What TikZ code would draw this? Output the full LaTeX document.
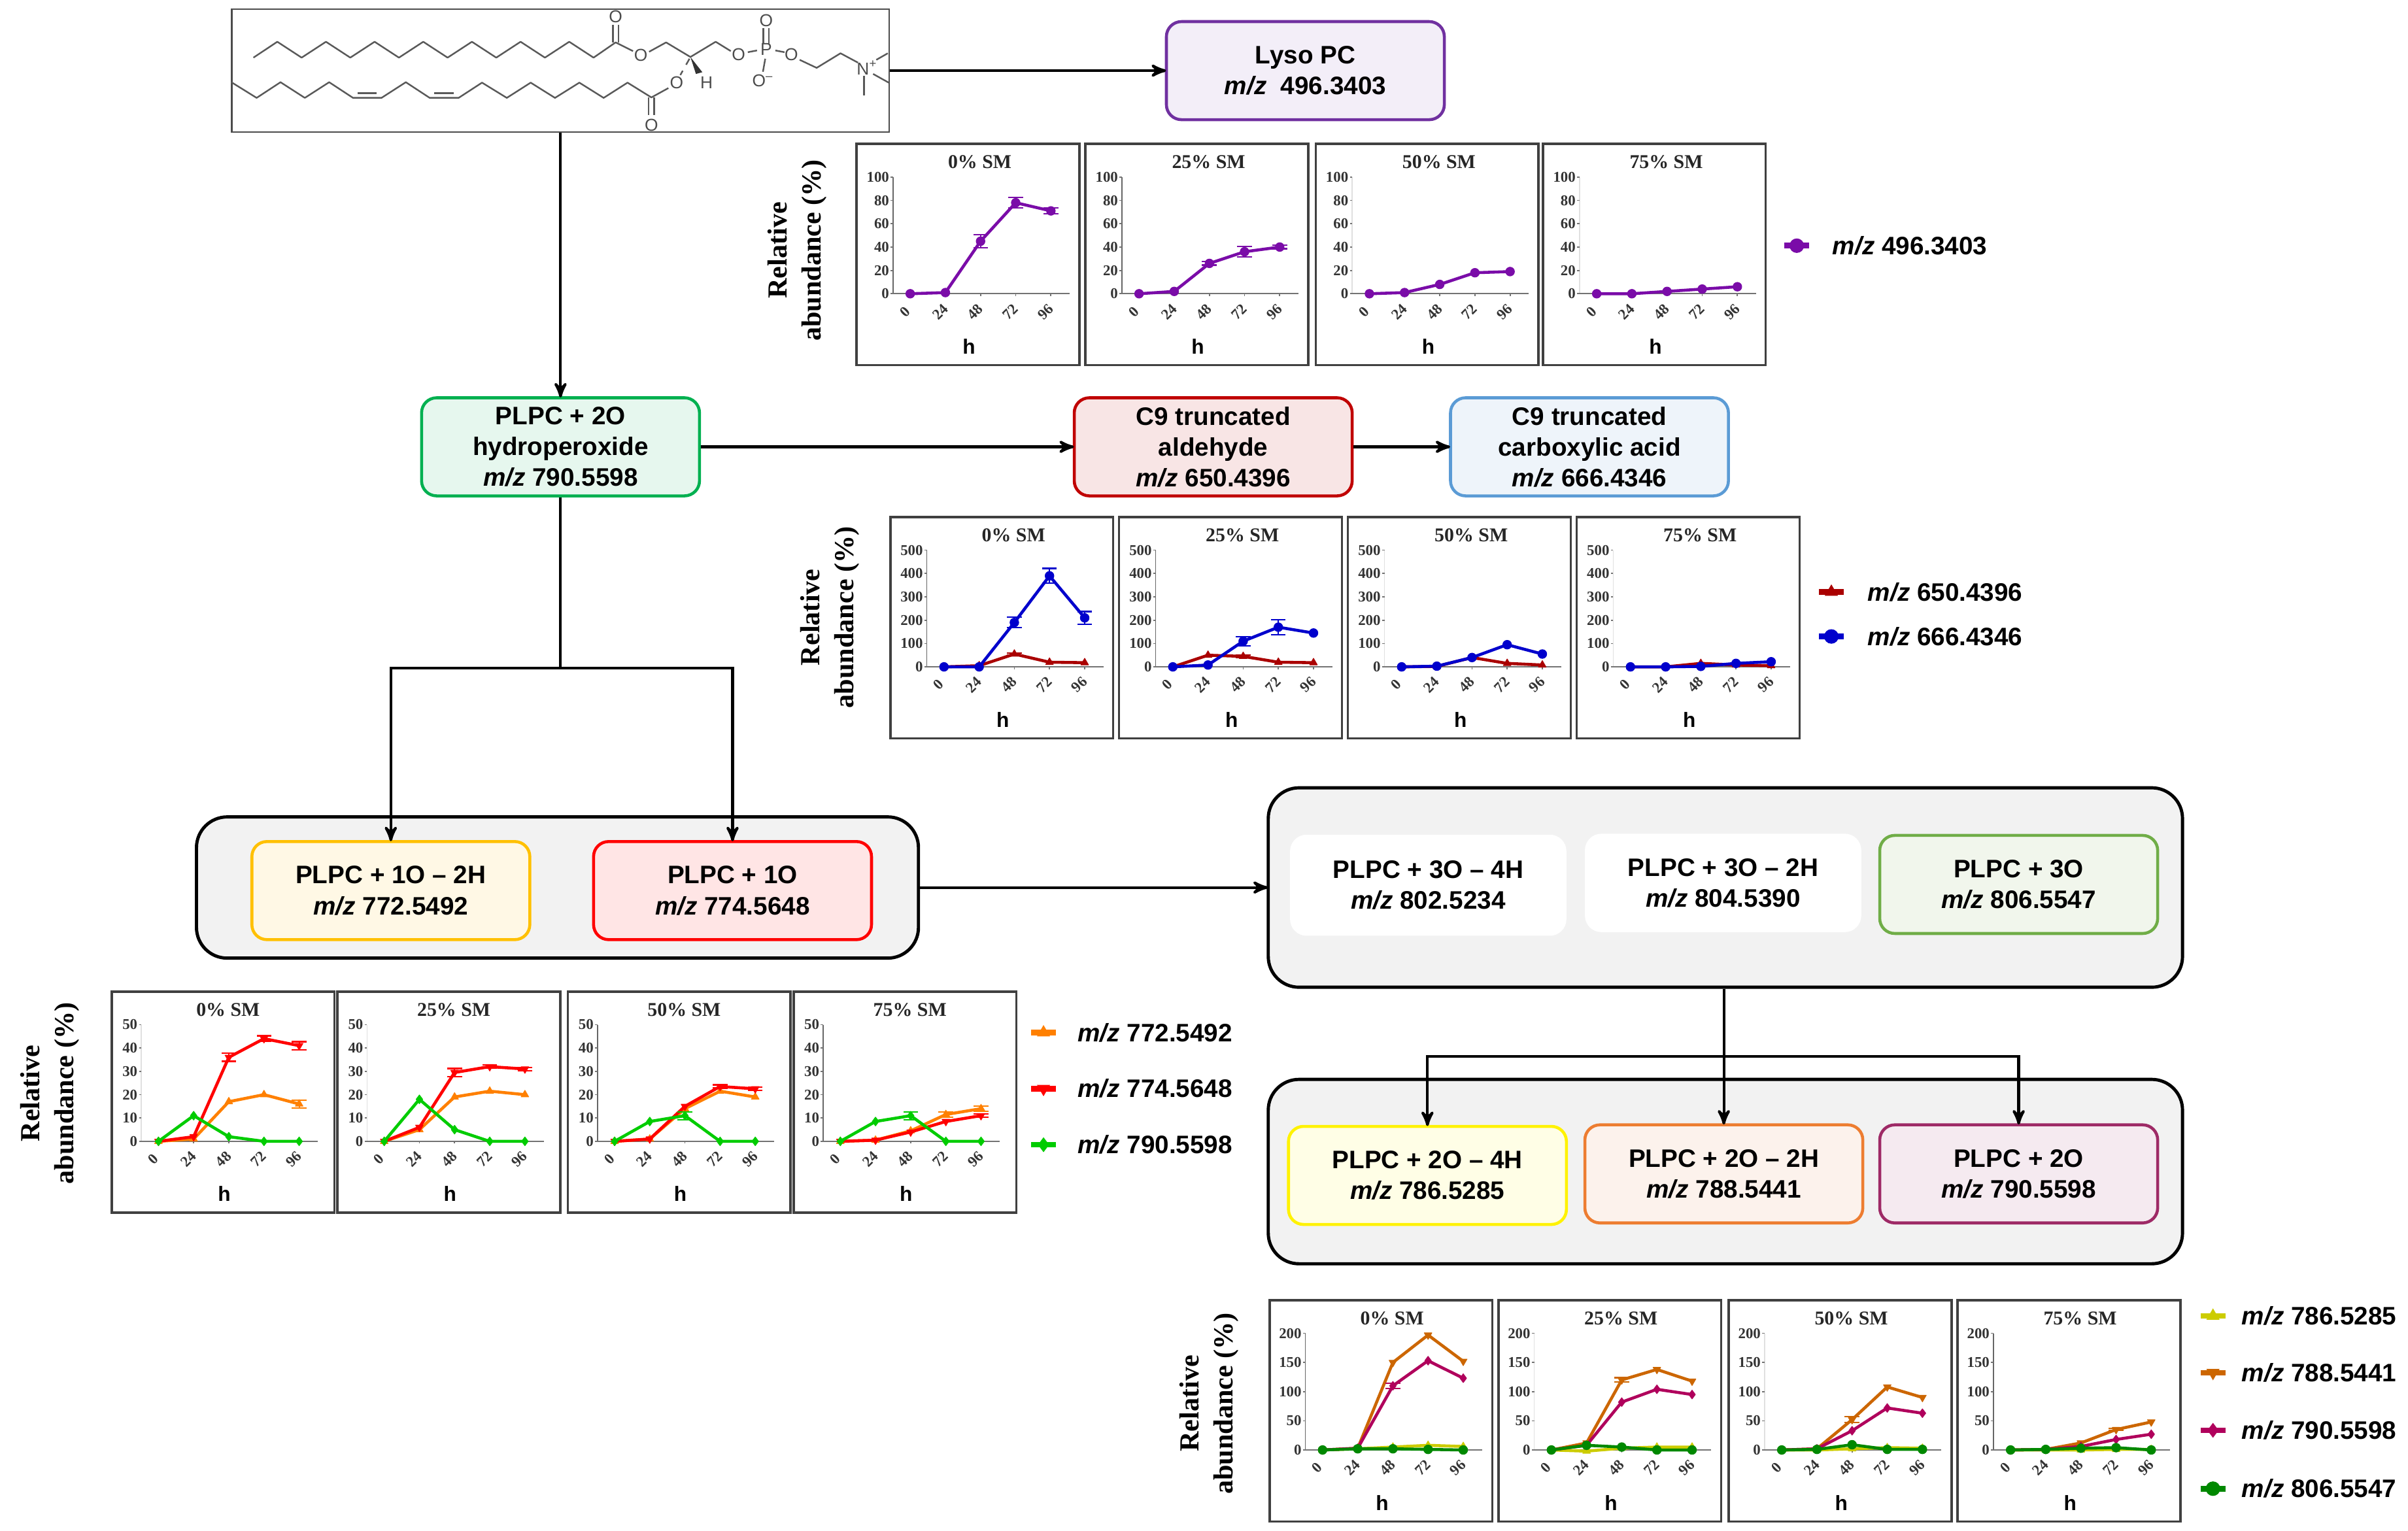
\documentclass[tikz,border=0pt]{standalone}
\usepackage{fontspec}
\setmainfont{Liberation Sans}
\newfontfamily\serifbold{Liberation Serif}[BoldFont=* Bold]
\usetikzlibrary{arrows}
\usetikzlibrary{plotmarks}

\newcommand{\mz}{\textit{m/z}}

\definecolor{violet496}{HTML}{7A0CA8}
\definecolor{red650}{HTML}{AA0000}
\definecolor{blue666}{HTML}{0000CC}
\definecolor{orange772}{HTML}{FF8000}
\definecolor{red774}{HTML}{FF0000}
\definecolor{green790}{HTML}{00CC00}
\definecolor{yellow786}{HTML}{CCCC00}
\definecolor{orange788}{HTML}{CC6600}
\definecolor{plum790}{HTML}{B0005C}
\definecolor{green806}{HTML}{008800}

\tikzset{
 box/.style={shape=rectangle,rounded corners=0.23cm,line width=1.3pt,minimum width=4.25cm,minimum height=1.5cm,inner sep=0pt,align=center,font=\fontsize{11}{13.4}\selectfont\bfseries},
 tint/.style 2 args={draw=#1,fill=#2},
 group/.style={shape=rectangle,rounded corners=0.47cm,draw=black,fill=black!5,line width=1.4pt,inner sep=0pt},
 conn/.style={line width=1.2pt},
 arrow/.style={conn,-stealth',shorten >=-0.5pt},
 panel/.style={shape=rectangle,draw=black!75,line width=1pt,fill=white,anchor=north west,minimum width=3.406cm,minimum height=3.383cm,inner sep=0pt},
 paneltitle/.style={font=\fontsize{8.5}{10}\serifbold\bfseries,text=black!85},
 ticklabel/.style={font=\fontsize{6.5}{7}\serifbold\bfseries,text=black!80,inner sep=0.5pt},
 hlabel/.style={font=\fontsize{9}{10}\selectfont\bfseries},
 axisline/.style={draw=black!55,line width=0.5pt},
 ylab/.style={rotate=90,align=center,font=\fontsize{12}{14.8}\serifbold\bfseries},
 legtext/.style={anchor=west,inner sep=0pt,font=\fontsize{11}{13}\selectfont\bfseries},
 atom/.style={font=\fontsize{7.5}{8}\selectfont,text=black!70,inner sep=0pt},
 bond/.style={draw=black!65,line width=0.7pt,line join=round},
 serup/.style={mark=triangle*,mark options={solid,line width=0.3pt}},
 serdown/.style={mark=triangle*,mark options={solid,line width=0.3pt,rotate=180}},
 serdia/.style={mark=diamond*,mark options={solid,line width=0.3pt}},
 sercirc/.style={mark=*,mark options={solid,line width=0.3pt}},
 lyso/.style={color=violet496,sercirc},
 ald/.style={color=red650,serup},
 acid/.style={color=blue666,sercirc},
 one2h/.style={color=orange772,serup},
 oneo/.style={color=red774,serdown},
 twoo/.style={color=green790,serdia},
 two4h/.style={color=yellow786,serup},
 two2h/.style={color=orange788,serdown},
 twoop/.style={color=plum790,serdia},
 threeo/.style={color=green806,sercirc}
}

\newcommand{\smpanel}[8][black!60]{
 \node (#2) [panel] at (#3,#4) {};
 \pgfmathsetmacro{\smax}{#3+#8}
 \pgfmathsetmacro{\smzero}{#4+98.3}
 \pgfmathsetmacro{\smk}{76/#6}
 \node (#2t) [paneltitle] at (\smax+56.5,#4+12.6) {#5};
 \draw [axisline,draw=#1] (\smax,#4+22.5) -- (\smax,\smzero);
 \draw [axisline] (\smax,\smzero) -- (\smax+115,\smzero);
 \foreach \tk in {0,#7,...,#6} {
  \draw [axisline] (\smax-1.5,{\smzero-\smk*\tk}) -- (\smax,{\smzero-\smk*\tk});
  \node (#2y\tk) [ticklabel,anchor=east] at (\smax-1.5,{\smzero-\smk*\tk}) {\tk};
 }
 \foreach \hr [count=\i from 0] in {0,24,48,72,96} {
  \draw [axisline] ({\smax+11.2+22.9*\i},\smzero) -- ({\smax+11.2+22.9*\i},\smzero+1.5);
  \node (#2x\hr) [ticklabel,rotate=45] at ({\smax+11.2+22.9*\i-3.5},#4+110) {\hr};
 }
 \node (#2h) [hlabel] at (#3+74,#4+132.6) {h};
}

\newcommand{\smseries}[2]{
 \foreach \val/\err [count=\i from 0] in {#2} {
  \coordinate (pt\i) at ({\smax+11.2+22.9*\i},{\smzero-\smk*\val});
  \ifdim\err pt>0pt
   \draw [#1,mark=none,line width=0.6pt,|-|] ({\smax+11.2+22.9*\i},{\smzero-\smk*(\val+\err)}) -- ({\smax+11.2+22.9*\i},{\smzero-\smk*(\val-\err)});
  \fi
 }
 \draw [#1,line width=1.3pt,mark size=1.9pt,line join=round] plot coordinates {(pt0) (pt1) (pt2) (pt3) (pt4)};
}

\newcommand{\smlegend}[6]{
 \coordinate (#1a) at (#2-8,#3);
 \coordinate (#1m) at (#2,#3);
 \coordinate (#1b) at (#2+8,#3);
 \draw [#4,line width=2.5pt,mark size=3pt,mark indices={2}] plot coordinates {(#1a) (#1m) (#1b)};
 \node (#1) [legtext] at (#5,#3) {\mz{} #6};
}

\begin{document}
\begin{tikzpicture}[x=0.02349cm,y=-0.02349cm]
\useasboundingbox (0,0) rectangle (1568,997);

\node (mol) [shape=rectangle,draw=black!70,line width=0.8pt,minimum width=10.05cm,minimum height=1.88cm,inner sep=0pt] at (365,46) {};

\begin{scope}[shift={(144.7,0)},x=0.007017cm,y=-0.003333cm]
\draw [bond] (68,265) -- (120,192) -- (173,265) -- (226,192) -- (279,265) -- (332,192) -- (385,265) -- (438,192) -- (491,265) -- (544,192) -- (597,265) -- (650,192) -- (703,265) -- (756,192) -- (809,265) -- (857,195) -- (895,235);
\draw [bond] (930,238) -- (967,195) -- (1020,262) -- (1075,192) -- (1108,235);
\draw [bond] (851,195) -- (851,115);
\draw [bond] (863,195) -- (863,115);
\draw [bond] (1145,240) -- (1165,232);
\draw [bond] (1179,130) -- (1179,200);
\draw [bond] (1191,130) -- (1191,200);
\draw [bond] (1205,232) -- (1225,240);
\draw [bond] (1183,270) -- (1178,330);
\draw [bond] (1258,275) -- (1295,312) -- (1347,245) -- (1385,288);
\draw [bond] (1425,275) -- (1450,245);
\draw [bond] (1418,340) -- (1452,380);
\draw [bond] (1398,350) -- (1398,440);
\draw [bond,dashed] (1018,270) -- (998,345);
\fill [black!80] (1020,262) -- (1032,340) -- (1046,332) -- cycle;
\draw [bond] (20,378) -- (75,450) -- (127,378) -- (180,450) -- (233,378) -- (285,450) -- (347,450) -- (400,378) -- (452,450) -- (515,450) -- (566,380) -- (620,450) -- (672,380) -- (725,450) -- (778,380) -- (831,450) -- (883,380) -- (935,448) -- (972,405);
\draw [bond] (295,428) -- (337,428);
\draw [bond] (462,428) -- (505,428);
\draw [bond] (929,448) -- (929,530);
\draw [bond] (941,448) -- (941,530);
\node (ocarb1) [atom] at (857,75) {O};
\node (oester1) [atom] at (912,255) {O};
\node (ophos1) [atom] at (1125,252) {O};
\node (phos) [atom] at (1185,228) {P};
\node (ophos2) [atom] at (1185,95) {O};
\node (ophos3) [atom] at (1240,252) {O};
\node (ominus) [atom] at (1178,372) {O\textsuperscript{--}};
\node (nplus) [atom] at (1405,312) {N\textsuperscript{+}};
\node (oester2) [atom] at (990,380) {O};
\node (hyd) [atom] at (1055,380) {H};
\node (ocarb2) [atom] at (935,575) {O};
\end{scope}

\definecolor{lysoline}{HTML}{7030A0}
\definecolor{lysofill}{HTML}{F3EEF8}
\definecolor{plpcline}{HTML}{00B050}
\definecolor{plpcfill}{HTML}{E6F7EE}
\definecolor{aldline}{HTML}{C00000}
\definecolor{aldfill}{HTML}{F8E5E5}
\definecolor{acidline}{HTML}{5B9BD5}
\definecolor{acidfill}{HTML}{EEF4FA}
\definecolor{goldline}{HTML}{FFC000}
\definecolor{goldfill}{HTML}{FFF8E5}
\definecolor{threeline}{HTML}{70AD47}
\definecolor{threefill}{HTML}{F1F6EC}
\definecolor{orangeline}{HTML}{ED7D31}
\definecolor{orangefill}{HTML}{FCF2EC}
\definecolor{plumline}{HTML}{9E2A66}
\definecolor{plumfill}{HTML}{F5EAF0}

\node (lysopc) [box,tint={lysoline}{lysofill}] at (850,46) {Lyso PC\\\mz{}\ \ 496.3403};
\node (plpc) [box,tint={plpcline}{plpcfill}] at (365,291) {PLPC + 2O\\hydroperoxide\\\mz{} 790.5598};
\node (c9ald) [box,tint={aldline}{aldfill}] at (790,291) {C9 truncated\\aldehyde\\\mz{} 650.4396};
\node (c9acid) [box,tint={acidline}{acidfill}] at (1035,291) {C9 truncated\\carboxylic acid\\\mz{} 666.4346};

\node (grpone) [group,minimum width=11.04cm,minimum height=2.16cm] at (363,578) {};
\node (one2hbox) [box,tint={goldline}{goldfill}] at (254.5,580) {PLPC + 1O -- 2H\\\mz{} 772.5492};
\node (oneobox) [box,tint={red}{red!10}] at (477,580) {PLPC + 1O\\\mz{} 774.5648};

\node (grpthree) [group,minimum width=13.98cm,minimum height=3.05cm] at (1123.5,578) {};
\node (three4h) [box,tint={white}{white},minimum width=4.18cm] at (930,576.5) {PLPC + 3O -- 4H\\\mz{} 802.5234};
\node (three2h) [box,tint={white}{white},minimum width=4.18cm,minimum height=1.46cm] at (1122,575) {PLPC + 3O -- 2H\\\mz{} 804.5390};
\node (threeobox) [box,tint={threeline}{threefill}] at (1314.5,576) {PLPC + 3O\\\mz{} 806.5547};

\node (grptwo) [group,minimum width=13.98cm,minimum height=2.82cm] at (1123.5,763) {};
\node (two4hbox) [box,tint={yellow}{yellow!10}] at (929.5,765.5) {PLPC + 2O -- 4H\\\mz{} 786.5285};
\node (two2hbox) [box,tint={orangeline}{orangefill}] at (1122.5,764.5) {PLPC + 2O -- 2H\\\mz{} 788.5441};
\node (twoobox) [box,tint={plumline}{plumfill}] at (1314.5,764.5) {PLPC + 2O\\\mz{} 790.5598};

\coordinate (split) at (365,435);
\coordinate (fork) at (1122.5,688);

\draw [arrow] (mol) -- (lysopc);
\draw [arrow] (mol) -- (plpc);
\draw [arrow] (plpc) -- (c9ald);
\draw [arrow] (c9ald) -- (c9acid);
\draw [conn] (plpc) -- (split);
\draw [arrow] (split) -| (one2hbox.north);
\draw [arrow] (split) -| (oneobox.north);
\draw [arrow] (grpone) -- (grpthree);
\draw [conn] (fork |- grpthree.south) -- (fork);
\draw [arrow] (fork) -| (two4hbox.north);
\draw [arrow] (fork) -- (two2hbox.north);
\draw [arrow] (fork) -| (twoobox.north);

\node (ylaba) [ylab] at (519,163) {Relative\\abundance (\%)};

\smpanel{aa}{557}{93}{0\% SM}{100}{20}{24.5}
\smseries{lyso}{0/0,1/0,45/6,78/5,71/3}
\smpanel{ab}{706}{93}{25\% SM}{100}{20}{24.5}
\smseries{lyso}{0/0,2/0,26/2,36/5,40/2}
\smpanel[black!12]{ac}{856}{93}{50\% SM}{100}{20}{24.5}
\smseries{lyso}{0/0,1/0,8/0,18/0,19/0}
\smpanel[black!12]{ad}{1004}{93}{75\% SM}{100}{20}{24.5}
\smseries{lyso}{0/0,0/0,2/0,4/0,6/0}

\smlegend{lega}{1170}{160}{lyso}{1193}{496.3403}

\node (ylabb) [ylab] at (540.5,402) {Relative\\abundance (\%)};

\smpanel{ba}{579}{336}{0\% SM}{500}{100}{24.5}
\smseries{ald}{0/0,5/0,55/8,20/0,18/0}
\smseries{acid}{0/0,0/0,190/25,390/35,210/30}
\smpanel{bb}{728}{336}{25\% SM}{500}{100}{24.5}
\smseries{ald}{0/0,50/0,45/8,20/0,18/0}
\smseries{acid}{0/0,8/0,110/22,170/35,145/0}
\smpanel[black!12]{bc}{877}{336}{50\% SM}{500}{100}{24.5}
\smseries{ald}{0/0,2/0,40/0,15/0,8/0}
\smseries{acid}{0/0,3/0,40/0,95/0,55/0}
\smpanel[black!12]{bd}{1026}{336}{75\% SM}{500}{100}{24.5}
\smseries{ald}{0/0,0/0,15/0,8/0,5/0}
\smseries{acid}{0/0,0/0,2/0,15/0,22/0}

\smlegend{legb}{1192.5}{385.5}{ald}{1216}{650.4396}
\smlegend{legc}{1192.5}{414.5}{acid}{1216}{666.4346}

\node (ylabc) [ylab] at (32.5,712) {Relative\\abundance (\%)};

\smpanel[black!12]{ca}{72}{645}{0\% SM}{50}{10}{20}
\smseries{one2h}{0/0,1/0,17/0,20/0,16/2}
\smseries{oneo}{0/0,2/0,36/2,44/1.5,41/2}
\smseries{twoo}{0/0,11/0,2/0,0/0,0/0}
\smpanel[black!12]{cb}{219}{645}{25\% SM}{50}{10}{20}
\smseries{one2h}{0/0,5/0,19/0,21.5/0,20/0}
\smseries{oneo}{0/0,6/0,29.5/2,32/1,31/1}
\smseries{twoo}{0/0,18/0,5/0,0/0,0/0}
\smpanel{cc}{369}{645}{50\% SM}{50}{10}{20}
\smseries{one2h}{0/0,1/0,14/0,21.5/0,19/0}
\smseries{oneo}{0/0,1/0,15/0,23.5/1,22.5/1}
\smseries{twoo}{0/0,8.5/0,11/2,0/0,0/0}
\smpanel{cd}{516}{645}{75\% SM}{50}{10}{20}
\smseries{one2h}{0/0,0.5/0,4.5/0,11.5/1.5,14/1.5}
\smseries{oneo}{0/0,0.5/0,4/0,8.5/0,11/1}
\smseries{twoo}{0/0,8.5/0,11/2,0/0,0/0}

\smlegend{legd}{679.5}{672.5}{one2h}{701.5}{772.5492}
\smlegend{lege}{679.5}{709}{oneo}{701.5}{774.5648}
\smlegend{legf}{679.5}{745.5}{twoo}{701.5}{790.5598}

\node (ylabd) [ylab] at (787.5,914) {Relative\\abundance (\%)};

\smpanel{da}{826}{846}{0\% SM}{200}{50}{24}
\smseries{two4h}{0/0,2/0,5/0,8/0,6/0}
\smseries{two2h}{0/0,3/0,150/0,197/0,152/0}
\smseries{twoop}{0/0,3/0,110/6,153/0,123/0}
\smseries{threeo}{0/0,2/0,2/0,1/0,0/0}
\smpanel[black!12]{db}{975}{846}{25\% SM}{200}{50}{24}
\smseries{two4h}{0/0,-2/0,3/0,5/0,5/0}
\smseries{two2h}{0/0,12/0,120/5,138/0,118/0}
\smseries{twoop}{0/0,8/0,82/0,104/0,95/0}
\smseries{threeo}{0/0,8/0,5/0,0/0,0/0}
\smpanel[black!12]{dc}{1125}{846}{50\% SM}{200}{50}{24}
\smseries{two4h}{0/0,0/0,2/0,4/0,3/0}
\smseries{two2h}{0/0,2/0,52/6,108/0,90/0}
\smseries{twoop}{0/0,2/0,33/0,72/0,63/0}
\smseries{threeo}{0/0,1/0,9/0,1/0,1/0}
\smpanel{dd}{1274}{846}{75\% SM}{200}{50}{24}
\smseries{two4h}{0/0,0/0,0/0,1/0,1/0}
\smseries{two2h}{0/0,1/0,12/0,35/3,48/0}
\smseries{twoop}{0/0,1/0,6/0,18/0,27/0}
\smseries{threeo}{0/0,1/0,3/0,4/0,0/0}

\smlegend{legg}{1441}{857}{two4h}{1459.5}{786.5285}
\smlegend{legh}{1441}{894}{two2h}{1459.5}{788.5441}
\smlegend{legi}{1441}{931.5}{twoop}{1459.5}{790.5598}
\smlegend{legj}{1441}{969.5}{threeo}{1459.5}{806.5547}

\end{tikzpicture}
\end{document}
